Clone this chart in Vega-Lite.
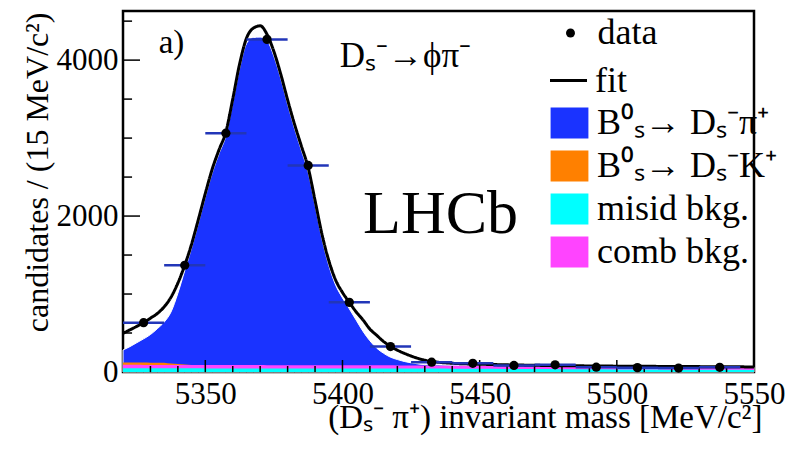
{
  "$schema": "https://vega.github.io/schema/vega-lite/v6.json",
  "width": 631,
  "height": 361,
  "autosize": {"type": "none"},
  "padding": {"left": 123, "top": 11, "right": 44, "bottom": 81},
  "background": "white",
  "config": {
    "view": {"stroke": "black", "strokeWidth": 2.5},
    "font": "Liberation Serif",
    "text": {"font": "Liberation Serif"},
    "axis": {
      "grid": false, "domain": false,
      "tickColor": "black", "tickWidth": 1.5,
      "labelFont": "Liberation Serif", "labelFontSize": 31, "labelColor": "black",
      "titleFont": "Liberation Serif", "titleFontSize": 32, "titleFontWeight": "normal", "titleColor": "black",
      "zindex": 0
    },
    "legend": {
      "orient": "none", "padding": 0, "title": null,
      "labelFont": "Liberation Serif", "labelFontSize": 36, "labelColor": "black", "labelLimit": 400,
      "rowPadding": 7, "symbolOpacity": 1
    }
  },
  "datasets": {
    "curve": [
      {"m": 5320, "fit": 496, "sig": 282, "comb": 92, "misid": 47, "dk": 122},
      {"m": 5322.5, "fit": 540, "sig": 325, "comb": 92, "misid": 47, "dk": 122},
      {"m": 5325, "fit": 585, "sig": 375, "comb": 92, "misid": 47, "dk": 121},
      {"m": 5327.5, "fit": 632, "sig": 425, "comb": 91, "misid": 47, "dk": 121},
      {"m": 5330, "fit": 690, "sig": 480, "comb": 91, "misid": 47, "dk": 120},
      {"m": 5332.5, "fit": 750, "sig": 555, "comb": 91, "misid": 47, "dk": 120},
      {"m": 5335, "fit": 835, "sig": 640, "comb": 91, "misid": 47, "dk": 119},
      {"m": 5337.5, "fit": 960, "sig": 770, "comb": 91, "misid": 47, "dk": 108},
      {"m": 5340, "fit": 1140, "sig": 1010, "comb": 90, "misid": 47, "dk": 104},
      {"m": 5342.5, "fit": 1369, "sig": 1300, "comb": 90, "misid": 47, "dk": 96},
      {"m": 5345, "fit": 1640, "sig": 1590, "comb": 90, "misid": 47, "dk": 90},
      {"m": 5347.5, "fit": 1960, "sig": 1910, "comb": 90, "misid": 47},
      {"m": 5350, "fit": 2290, "sig": 2240, "comb": 90, "misid": 46},
      {"m": 5352.5, "fit": 2600, "sig": 2550, "comb": 90, "misid": 46},
      {"m": 5355, "fit": 2850, "sig": 2800, "comb": 90, "misid": 46},
      {"m": 5357.5, "fit": 3080, "sig": 3030, "comb": 89, "misid": 46},
      {"m": 5360, "fit": 3500, "sig": 3450, "comb": 89, "misid": 46},
      {"m": 5362.5, "fit": 3950, "sig": 3890, "comb": 89, "misid": 46},
      {"m": 5365, "fit": 4280, "sig": 4210, "comb": 89, "misid": 46},
      {"m": 5367.5, "fit": 4410, "sig": 4290, "comb": 89, "misid": 46},
      {"m": 5370, "fit": 4440, "sig": 4295, "comb": 89, "misid": 46},
      {"m": 5372.5, "fit": 4330, "sig": 4250, "comb": 88, "misid": 46},
      {"m": 5375, "fit": 4110, "sig": 4050, "comb": 88, "misid": 46},
      {"m": 5377.5, "fit": 3820, "sig": 3765, "comb": 88, "misid": 46},
      {"m": 5380, "fit": 3490, "sig": 3435, "comb": 88, "misid": 46},
      {"m": 5382.5, "fit": 3180, "sig": 3125, "comb": 88, "misid": 46},
      {"m": 5385, "fit": 2900, "sig": 2845, "comb": 88, "misid": 46},
      {"m": 5387.5, "fit": 2620, "sig": 2560, "comb": 88, "misid": 46},
      {"m": 5390, "fit": 2200, "sig": 2140, "comb": 87, "misid": 46},
      {"m": 5392.5, "fit": 1770, "sig": 1710, "comb": 87, "misid": 46},
      {"m": 5395, "fit": 1430, "sig": 1370, "comb": 87, "misid": 46},
      {"m": 5397.5, "fit": 1180, "sig": 1115, "comb": 87, "misid": 46},
      {"m": 5400, "fit": 1020, "sig": 950, "comb": 87, "misid": 46},
      {"m": 5402.5, "fit": 893, "sig": 810, "comb": 86, "misid": 46},
      {"m": 5405, "fit": 770, "sig": 665, "comb": 86, "misid": 46},
      {"m": 5407.5, "fit": 667, "sig": 520, "comb": 86, "misid": 45},
      {"m": 5410, "fit": 550, "sig": 400, "comb": 86, "misid": 45},
      {"m": 5412.5, "fit": 470, "sig": 305, "comb": 85, "misid": 45},
      {"m": 5415, "fit": 390, "sig": 240, "comb": 85, "misid": 45},
      {"m": 5417.5, "fit": 330, "sig": 190, "comb": 85, "misid": 45},
      {"m": 5420, "fit": 280, "sig": 160, "comb": 84, "misid": 45},
      {"m": 5422.5, "fit": 240, "sig": 135, "comb": 84, "misid": 45},
      {"m": 5425, "fit": 205, "sig": 118, "comb": 83, "misid": 45},
      {"m": 5427.5, "fit": 175, "sig": 104, "comb": 83, "misid": 45},
      {"m": 5430, "fit": 150, "sig": 95, "comb": 82, "misid": 45},
      {"m": 5435, "fit": 125, "sig": 90, "comb": 81, "misid": 44},
      {"m": 5440, "fit": 112, "sig": 86, "comb": 79, "misid": 43},
      {"m": 5450, "fit": 100, "sig": 82, "comb": 76, "misid": 41},
      {"m": 5460, "fit": 92, "sig": 78, "comb": 73, "misid": 39},
      {"m": 5470, "fit": 86, "sig": 75, "comb": 70, "misid": 37},
      {"m": 5480, "fit": 81, "sig": 72, "comb": 67, "misid": 35},
      {"m": 5490, "fit": 78, "sig": 69, "comb": 65, "misid": 34},
      {"m": 5500, "fit": 75, "sig": 67, "comb": 62, "misid": 32},
      {"m": 5510, "fit": 73, "sig": 65, "comb": 60, "misid": 31},
      {"m": 5520, "fit": 71, "sig": 63, "comb": 58, "misid": 30},
      {"m": 5530, "fit": 69, "sig": 61, "comb": 57, "misid": 29},
      {"m": 5540, "fit": 67, "sig": 60, "comb": 56, "misid": 28},
      {"m": 5550, "fit": 65, "sig": 59, "comb": 55, "misid": 27}
    ],
    "points": [
      {"m": 5327.5, "lo": 5320, "hi": 5335, "n": 632},
      {"m": 5342.5, "lo": 5335, "hi": 5350, "n": 1369},
      {"m": 5357.5, "lo": 5350, "hi": 5365, "n": 3063},
      {"m": 5372.5, "lo": 5365, "hi": 5380, "n": 4266},
      {"m": 5387.5, "lo": 5380, "hi": 5395, "n": 2649},
      {"m": 5402.5, "lo": 5395, "hi": 5410, "n": 893},
      {"m": 5417.5, "lo": 5410, "hi": 5425, "n": 326},
      {"m": 5432.5, "lo": 5425, "hi": 5440, "n": 126},
      {"m": 5447.5, "lo": 5440, "hi": 5455, "n": 112},
      {"m": 5462.5, "lo": 5455, "hi": 5470, "n": 84},
      {"m": 5477.5, "lo": 5470, "hi": 5485, "n": 92},
      {"m": 5492.5, "lo": 5485, "hi": 5500, "n": 62},
      {"m": 5507.5, "lo": 5500, "hi": 5515, "n": 56},
      {"m": 5522.5, "lo": 5515, "hi": 5530, "n": 50},
      {"m": 5537.5, "lo": 5530, "hi": 5545, "n": 60}
    ],
    "xticks": [
      {"v": 5330, "major": false}, {"v": 5340, "major": false}, {"v": 5350, "major": true},
      {"v": 5360, "major": false}, {"v": 5370, "major": false}, {"v": 5380, "major": false},
      {"v": 5390, "major": false}, {"v": 5400, "major": true}, {"v": 5410, "major": false},
      {"v": 5420, "major": false}, {"v": 5430, "major": false}, {"v": 5440, "major": false},
      {"v": 5450, "major": true}, {"v": 5460, "major": false}, {"v": 5470, "major": false},
      {"v": 5480, "major": false}, {"v": 5490, "major": false}, {"v": 5500, "major": true},
      {"v": 5510, "major": false}, {"v": 5520, "major": false}, {"v": 5530, "major": false},
      {"v": 5540, "major": false}
    ],
    "yticks": [
      {"v": 500, "major": false}, {"v": 1000, "major": false}, {"v": 1500, "major": false},
      {"v": 2000, "major": true}, {"v": 2500, "major": false}, {"v": 3000, "major": false},
      {"v": 3500, "major": false}, {"v": 4000, "major": true}, {"v": 4500, "major": false}
    ]
  },
  "layer": [
    {
      "data": {"name": "curve"},
      "mark": {"type": "area", "interpolate": "monotone", "opacity": 1, "stroke": "white", "strokeWidth": 1},
      "encoding": {
        "x": {
          "field": "m", "type": "quantitative",
          "scale": {"domain": [5320, 5550], "nice": false, "zero": false},
          "axis": {
            "orient": "bottom",
            "title": "(Dₛ⁻ π⁺) invariant mass [MeV/c²]",
            "titleFontSize": 33,
            "values": [5350, 5400, 5450, 5500, 5550],
            "format": "d", "ticks": false, "domain": false,
            "labelPadding": 7, "labelFlush": false, "labelOverlap": false,
            "titleX": 639, "titleY": 55, "titleAlign": "right", "titleBaseline": "alphabetic", "titleAnchor": "end"
          }
        },
        "y": {
          "field": "sig", "type": "quantitative",
          "scale": {"domain": [0, 4630], "nice": false},
          "axis": {
            "orient": "left",
            "title": "candidates / (15 MeV/c²)",
            "values": [0, 2000, 4000],
            "format": "d", "ticks": false, "domain": false,
            "labelPadding": 5, "labelOverlap": false, "labelFlush": false,
            "titleX": -76, "titleY": 1, "titleAngle": 270, "titleAlign": "right", "titleBaseline": "alphabetic"
          }
        },
        "color": {
          "datum": "B⁰ₛ→ Dₛ⁻π⁺",
          "scale": {
            "domain": ["B⁰ₛ→ Dₛ⁻π⁺", "B⁰ₛ→ Dₛ⁻K⁺", "misid bkg.", "comb bkg."],
            "range": ["#1a33ff", "#ff8000", "#00ffff", "#ff44ff"]
          },
          "legend": {
            "orient": "none", "legendX": 428.5, "legendY": 94,
            "symbolType": "M-1.22,-1H1.22V1H-1.22Z", "symbolSize": 961, "symbolStrokeWidth": 0,
            "labelOffset": 9.5, "rowPadding": 7
          }
        }
      }
    },
    {
      "data": {"name": "curve"},
      "mark": {"type": "area", "interpolate": "monotone", "opacity": 1},
      "encoding": {
        "x": {"field": "m", "type": "quantitative"},
        "y": {"field": "dk", "type": "quantitative"},
        "color": {"datum": "B⁰ₛ→ Dₛ⁻K⁺", "legend": null}
      }
    },
    {
      "data": {"name": "curve"},
      "mark": {"type": "area", "interpolate": "monotone", "opacity": 1},
      "encoding": {
        "x": {"field": "m", "type": "quantitative"},
        "y": {"field": "comb", "type": "quantitative"},
        "color": {"datum": "comb bkg.", "legend": null}
      }
    },
    {
      "data": {"name": "curve"},
      "mark": {"type": "area", "interpolate": "monotone", "opacity": 1},
      "encoding": {
        "x": {"field": "m", "type": "quantitative"},
        "y": {"field": "misid", "type": "quantitative"},
        "color": {"datum": "misid bkg.", "legend": null}
      }
    },
    {
      "data": {"name": "xticks"},
      "transform": [{"filter": "datum.major"}],
      "mark": {"type": "rule", "color": "black", "strokeWidth": 1.5},
      "encoding": {
        "x": {"field": "v", "type": "quantitative"},
        "y": {"datum": 0, "type": "quantitative"},
        "y2": {"datum": 154}
      }
    },
    {
      "data": {"name": "xticks"},
      "transform": [{"filter": "!datum.major"}],
      "mark": {"type": "rule", "color": "black", "strokeWidth": 1.5},
      "encoding": {
        "x": {"field": "v", "type": "quantitative"},
        "y": {"datum": 0, "type": "quantitative"},
        "y2": {"datum": 77}
      }
    },
    {
      "data": {"name": "yticks"},
      "transform": [{"filter": "datum.major"}],
      "mark": {"type": "rule", "color": "black", "strokeWidth": 1.5},
      "encoding": {
        "y": {"field": "v", "type": "quantitative"},
        "x": {"datum": 5320, "type": "quantitative"},
        "x2": {"datum": 5326.2}
      }
    },
    {
      "data": {"name": "yticks"},
      "transform": [{"filter": "!datum.major"}],
      "mark": {"type": "rule", "color": "black", "strokeWidth": 1.5},
      "encoding": {
        "y": {"field": "v", "type": "quantitative"},
        "x": {"datum": 5320, "type": "quantitative"},
        "x2": {"datum": 5323.3}
      }
    },
    {
      "data": {"name": "curve"},
      "mark": {"type": "line", "interpolate": "monotone", "strokeWidth": 3, "color": "black"},
      "encoding": {
        "x": {"field": "m", "type": "quantitative"},
        "y": {"field": "fit", "type": "quantitative"},
        "strokeDash": {
          "datum": "fit",
          "scale": {"domain": ["fit"], "range": [[1, 0]]},
          "legend": {
            "orient": "none", "legendX": 425.5, "legendY": 49.5,
            "symbolType": "stroke", "symbolSize": 1369, "symbolStrokeColor": "black", "symbolStrokeWidth": 3,
            "labelOffset": 6.5
          }
        }
      }
    },
    {
      "data": {"name": "points"},
      "mark": {"type": "rule", "color": "#2236b8", "strokeWidth": 2.5},
      "encoding": {
        "x": {"field": "lo", "type": "quantitative"},
        "x2": {"field": "hi"},
        "y": {"field": "n", "type": "quantitative"}
      }
    },
    {
      "data": {"name": "points"},
      "mark": {"type": "point", "filled": true, "size": 85, "opacity": 1, "color": "black"},
      "encoding": {
        "x": {"field": "m", "type": "quantitative"},
        "y": {"field": "n", "type": "quantitative"},
        "shape": {
          "datum": "data",
          "scale": {"domain": ["data"], "range": ["circle"]},
          "legend": {
            "orient": "none", "legendX": 429.5, "legendY": 4,
            "symbolSize": 80, "symbolFillColor": "black", "symbolStrokeColor": "black", "symbolStrokeWidth": 0,
            "labelOffset": 9
          }
        }
      }
    },
    {
      "data": {"values": [{}]},
      "mark": {"type": "text", "text": "a)", "font": "Liberation Serif", "fontSize": 33, "align": "left", "baseline": "alphabetic", "color": "black"},
      "encoding": {"x": {"datum": 5333, "type": "quantitative"}, "y": {"datum": 4090, "type": "quantitative"}}
    },
    {
      "data": {"values": [{}]},
      "mark": {"type": "text", "text": "Dₛ⁻→ϕπ⁻", "font": "Liberation Serif", "fontSize": 35, "align": "left", "baseline": "alphabetic", "color": "black"},
      "encoding": {"x": {"datum": 5399, "type": "quantitative"}, "y": {"datum": 3914, "type": "quantitative"}}
    },
    {
      "data": {"values": [{}]},
      "mark": {"type": "text", "text": "LHCb", "font": "Liberation Serif", "fontSize": 62, "align": "left", "baseline": "alphabetic", "color": "black"},
      "encoding": {"x": {"datum": 5407.5, "type": "quantitative"}, "y": {"datum": 1782, "type": "quantitative"}}
    }
  ]
}
